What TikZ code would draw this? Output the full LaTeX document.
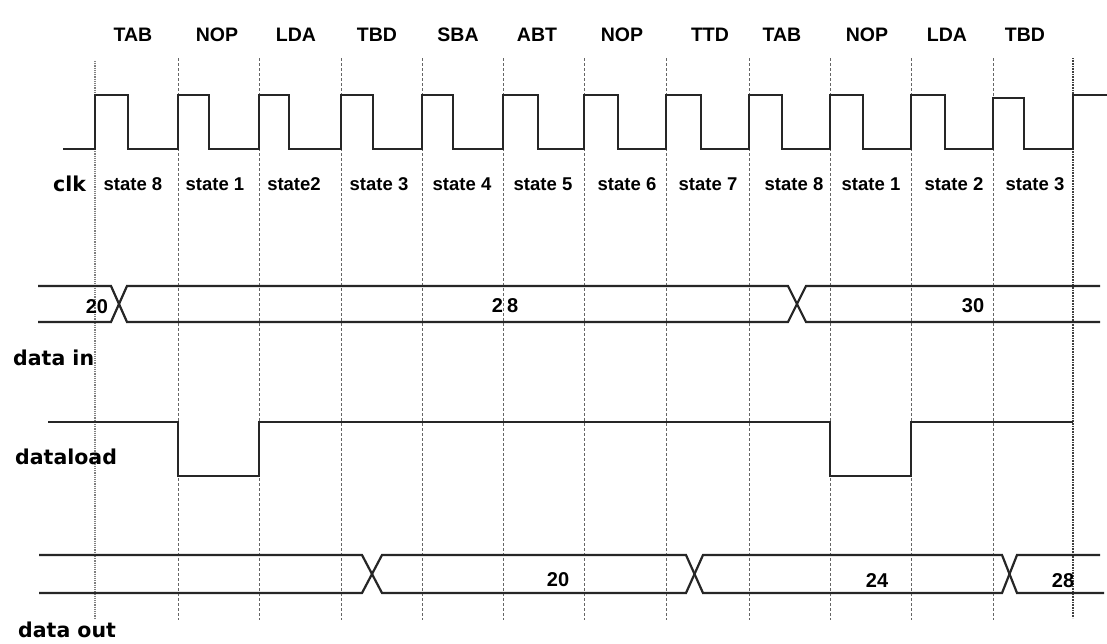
\documentclass[tikz,border=0pt]{standalone}
\usepackage{fontspec}
\setmainfont{Liberation Sans}
\newfontfamily\vfont{DejaVu Sans}
\begin{document}
\begin{tikzpicture}[x=1pt,y=-1pt,
  wave/.style={line width=2.2pt, draw=black!85, line join=miter},
  gridline/.style={line width=0.9pt, draw=black!60, dash pattern=on 3pt off 2pt},
  firstline/.style={line width=1.1pt, draw=black!50, dash pattern=on 1.2pt off 1pt},
  lastline/.style={line width=1.8pt, draw=black!75, dash pattern=on 1pt off 0.6pt},
  instr/.style={font=\fontsize{19.5}{22}\selectfont\bfseries, inner sep=0pt, anchor=base},
  st/.style={font=\fontsize{18.5}{22}\selectfont\bfseries, inner sep=0pt, anchor=base},
  sig/.style={font=\vfont\fontsize{20.5}{24}\selectfont\bfseries, inner sep=0pt, anchor=base west},
  val/.style={font=\fontsize{20}{22}\selectfont\bfseries, inner sep=0pt, anchor=base}]
\useasboundingbox (0,0) rectangle (1107,643);
\fill[white] (0,0) rectangle (1107,643);

% grid lines
\draw[firstline] (95,61) -- (95,618);
\foreach \x in {178,259,341,422,503,584,666,749,830,911,993}
  \draw[gridline] (\x,58) -- (\x,620);
\draw[lastline] (1073,58) -- (1073,618);

% instruction labels
\node[instr] (i1)  at (133,41)  {TAB};
\node[instr] (i2)  at (217,41)  {NOP};
\node[instr] (i3)  at (296,41)  {LDA};
\node[instr] (i4)  at (377,41)  {TBD};
\node[instr] (i5)  at (458,41)  {SBA};
\node[instr] (i6)  at (537,41)  {ABT};
\node[instr] (i7)  at (622,41)  {NOP};
\node[instr] (i8)  at (710,41)  {TTD};
\node[instr] (i9)  at (782,41)  {TAB};
\node[instr] (i10) at (867,41)  {NOP};
\node[instr] (i11) at (947,41)  {LDA};
\node[instr] (i12) at (1025,41) {TBD};

% clock
\draw[wave] (63,149) -| (95,95) -| (128,149) -| (178,95) -| (209,149)
  -| (259,95) -| (289,149) -| (341,95) -| (373,149) -| (422,95) -| (453,149)
  -| (503,95) -| (538,149) -| (584,95) -| (618,149) -| (666,95) -| (701,149)
  -| (749,95) -| (782,149) -| (830,95) -| (863,149) -| (911,95) -| (945,149)
  -| (993,98) -| (1024,149) -| (1073,95) -- (1107,95);

\node[sig] (clk) at (53,191) {clk};
\node[st] (s1)  at (133,190)  {state 8};
\node[st] (s2)  at (215,190)  {state 1};
\node[st] (s3)  at (294,190)  {state2};
\node[st] (s4)  at (379,190)  {state 3};
\node[st] (s5)  at (462,190)  {state 4};
\node[st] (s6)  at (543,190)  {state 5};
\node[st] (s7)  at (627,190)  {state 6};
\node[st] (s8)  at (708,190)  {state 7};
\node[st] (s9)  at (794,190)  {state 8};
\node[st] (s10) at (871,190)  {state 1};
\node[st] (s11) at (954,190)  {state 2};
\node[st] (s12) at (1035,190) {state 3};

% data in
\draw[wave] (38,286) -- (111,286) -- (127,322) -- (788,322) -- (806,286) -- (1100,286);
\draw[wave] (38,322) -- (111,322) -- (127,286) -- (788,286) -- (806,322) -- (1100,322);
\node[val] (di1) at (97,313) {20};
\node[val] (di2) at (505,312) {2\hspace{4pt}8};
\node[val] (di3) at (973,312) {30};
\node[sig] (datain) at (13,365) {data in};

% dataload
\draw[wave] (48,422) -| (178,476) -| (259,422) -| (830,476) -| (911,422) -- (1073,422);
\node[sig] (dataload) at (15,464) {dataload};

% data out
\draw[wave] (39,555) -- (362,555) -- (382,593) -- (686,593) -- (703,555) -- (1002,555) -- (1017,593) -- (1104,593);
\draw[wave] (39,593) -- (362,593) -- (382,555) -- (686,555) -- (703,593) -- (1002,593) -- (1017,555) -- (1100,555);
\node[val] (do1) at (558,586) {20};
\node[val] (do2) at (877,587) {24};
\node[val] (do3) at (1063,587) {28};
\node[sig] (dataout) at (18,637) {data out};
\end{tikzpicture}
\end{document}
